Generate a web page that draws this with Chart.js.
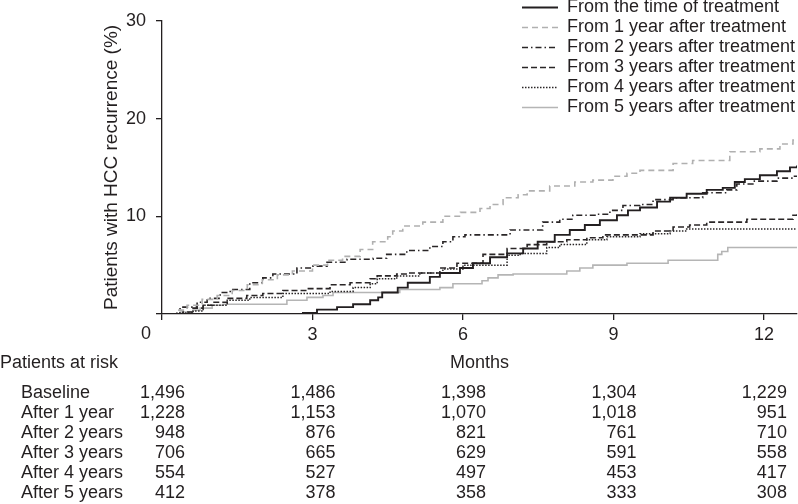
<!DOCTYPE html>
<html>
<head>
<meta charset="utf-8">
<script src="https://cdn.jsdelivr.net/npm/chart.js@4"></script>
<style>
  body { margin: 0; background: #fff; }
</style>
</head>
<body>
<canvas id="km" width="798" height="504"></canvas>
<script>
// x ticks (months) and series names
const monthTicks = [0, 3, 6, 9, 12];
const seriesNames = [
  'From the time of treatment',
  'From 1 year after treatment',
  'From 2 years after treatment',
  'From 3 years after treatment',
  'From 4 years after treatment',
  'From 5 years after treatment'
];

// step curves: time (months) / cumulative recurrence (%)
const tTreat = [0, 2.81, 3.09, 3.49, 3.81, 4.15, 4.31, 4.39, 4.70, 4.90, 5.34, 5.54, 5.94, 6.20, 6.54, 6.88, 7.20, 7.49, 7.83, 8.13, 8.43, 8.73, 9.07, 9.29, 9.53, 9.87, 10.13, 10.46, 10.86, 11.18, 11.42, 11.62, 11.92, 12.26, 12.52, 12.66];
const vTreat = [0, 0.1, 0.45, 0.7, 1.0, 1.4, 1.7, 2.2, 2.7, 3.2, 3.8, 4.2, 4.7, 5.2, 5.8, 6.2, 6.7, 7.4, 8.1, 8.6, 9.1, 9.6, 10.1, 10.6, 10.9, 11.5, 11.9, 12.3, 12.7, 12.9, 13.5, 13.8, 14.2, 14.6, 15.0, 15.2];

const t1yr = [0, 0.3, 0.5, 0.8, 1.1, 1.4, 1.7, 2.0, 2.3, 2.6, 3.0, 3.3, 3.6, 3.95, 4.2, 4.5, 4.6, 4.8, 5.2, 5.6, 5.95, 6.34, 6.54, 6.80, 7.10, 7.28, 7.73, 8.23, 8.59, 8.99, 9.27, 9.53, 10.19, 10.58, 11.32, 11.92, 12.32, 12.58, 12.66];
const v1yr = [0, 0.4, 0.9, 1.5, 1.9, 2.4, 3.0, 3.5, 4.0, 4.4, 5.0, 5.5, 5.9, 6.6, 7.4, 7.9, 8.5, 9.0, 9.4, 10.0, 10.4, 10.8, 11.2, 11.9, 12.2, 12.6, 13.1, 13.5, 13.7, 14.1, 14.4, 14.7, 15.4, 15.7, 16.6, 16.9, 17.4, 17.8, 17.8];

const t2yr = [0, 0.36, 0.70, 0.90, 1.16, 1.36, 1.75, 2.01, 2.21, 2.69, 3.01, 3.29, 3.69, 4.21, 4.48, 4.88, 5.34, 5.60, 5.80, 6.04, 6.94, 7.59, 7.93, 8.19, 8.67, 8.93, 9.19, 9.53, 9.79, 10.19, 10.78, 11.26, 11.46, 11.78, 12.26, 12.58, 12.66];
const v2yr = [0, 0.7, 1.2, 1.6, 2.2, 2.5, 3.2, 3.7, 4.1, 4.7, 4.9, 5.3, 5.6, 5.7, 6.1, 6.5, 6.9, 7.4, 7.9, 8.1, 8.6, 9.4, 9.7, 10.1, 10.2, 10.6, 11.1, 11.2, 11.7, 11.9, 12.4, 12.7, 13.3, 13.6, 13.9, 14.1, 14.1];

const t3yr = [0, 0.42, 0.62, 0.82, 1.02, 1.30, 1.69, 2.01, 2.41, 2.89, 3.35, 3.75, 4.15, 4.29, 4.68, 4.94, 5.54, 5.88, 6.40, 6.88, 7.28, 7.67, 8.07, 8.47, 8.79, 9.79, 10.19, 10.52, 10.86, 11.66, 12.58, 12.66];
const v3yr = [0, 0.2, 0.6, 0.9, 1.2, 1.6, 1.9, 2.1, 2.4, 2.6, 3.0, 3.2, 3.6, 3.9, 4.1, 4.2, 4.7, 5.2, 6.1, 6.7, 7.1, 7.4, 7.6, 7.8, 8.1, 8.5, 8.9, 9.1, 9.4, 9.7, 10.1, 10.2];

const t4yr = [0, 0.30, 0.62, 0.82, 1.30, 1.75, 2.41, 3.35, 3.81, 4.15, 4.29, 4.68, 5.14, 5.60, 6.00, 6.88, 7.14, 7.67, 7.93, 8.47, 8.87, 9.53, 10.13, 10.46, 12.66];
const v4yr = [0, 0.1, 0.3, 0.9, 1.4, 1.7, 2.1, 2.3, 2.7, 3.1, 3.6, 3.9, 4.2, 4.6, 5.0, 6.0, 6.2, 6.8, 7.1, 7.6, 7.9, 8.2, 8.5, 8.7, 8.7];

const t5yr = [0, 0.36, 0.62, 0.76, 1.00, 1.22, 2.49, 2.89, 3.21, 3.41, 4.74, 5.54, 5.80, 6.38, 6.50, 6.70, 7.00, 8.07, 8.33, 8.59, 9.27, 10.09, 11.08, 11.16, 11.28, 12.66];
const v5yr = [0, 0.2, 0.4, 0.6, 0.9, 1.0, 1.4, 1.7, 1.9, 2.2, 2.5, 2.7, 3.1, 3.4, 3.7, 4.0, 4.1, 4.4, 4.7, 5.0, 5.2, 5.5, 6.1, 6.4, 6.8, 6.8];

// patients at risk table
const riskRows = ['Baseline', 'After 1 year', 'After 2 years', 'After 3 years', 'After 4 years', 'After 5 years'];
const riskBaseline = [1496, 1486, 1398, 1304, 1229];
const risk1yr = [1228, 1153, 1070, 1018, 951];
const risk2yr = [948, 876, 821, 761, 710];
const risk3yr = [706, 665, 629, 591, 558];
const risk4yr = [554, 527, 497, 453, 417];
const risk5yr = [412, 378, 358, 333, 308];
const riskCounts = [riskBaseline, risk1yr, risk2yr, risk3yr, risk4yr, risk5yr];

const ink = '#231f20';
const family = '"Liberation Sans", Arial, sans-serif';
const font = { family: family, size: 18 };

function pts(ts, vs) {
  return ts.map((t, i) => ({ x: t, y: vs[i] }));
}

const styles = [
  { color: ink, width: 1.9, dash: [] },
  { color: '#b0b0b0', width: 1.6, dash: [6, 4] },
  { color: '#2a2627', width: 1.6, dash: [6, 3, 1.5, 3] },
  { color: '#2a2627', width: 1.6, dash: [6, 3] },
  { color: '#2a2627', width: 1.5, dash: [1.5, 1.5] },
  { color: '#b5b5b5', width: 1.6, dash: [] }
];
const curves = [pts(tTreat, vTreat), pts(t1yr, v1yr), pts(t2yr, v2yr), pts(t3yr, v3yr), pts(t4yr, v4yr), pts(t5yr, v5yr)];

const datasets = curves.map((d, i) => ({
  label: seriesNames[i],
  data: d,
  borderColor: styles[i].color,
  borderWidth: styles[i].width,
  borderDash: styles[i].dash,
  stepped: 'before',
  fill: false,
  pointRadius: 0
}));

// legend, origin "0" and the risk table
const extras = {
  id: 'extras',
  afterDraw(chart) {
    const ctx = chart.ctx;
    const xs = chart.scales.x;
    ctx.save();
    ctx.font = '18px ' + family;
    ctx.fillStyle = ink;
    ctx.textBaseline = 'middle';

    ctx.textAlign = 'center';
    ctx.fillText('0', xs.getPixelForValue(0) - 16, 334);

    chart.data.datasets.forEach((ds, i) => {
      const y = 7.5 + i * 20;
      ctx.save();
      ctx.strokeStyle = ds.borderColor;
      ctx.lineWidth = ds.borderWidth;
      ctx.setLineDash(ds.borderDash);
      ctx.beginPath();
      ctx.moveTo(522, y);
      ctx.lineTo(558, y);
      ctx.stroke();
      ctx.restore();
      ctx.textAlign = 'left';
      ctx.fillText(ds.label, 567, y);
    });

    ctx.textAlign = 'left';
    ctx.fillText('Patients at risk', 0, 363);
    riskRows.forEach((name, r) => {
      const y = 393 + r * 20;
      ctx.textAlign = 'left';
      ctx.fillText(name, 21, y);
      ctx.textAlign = 'right';
      riskCounts[r].forEach((n, c) => {
        ctx.fillText(n.toLocaleString('en-US'), xs.getPixelForValue(monthTicks[c]) + 23, y);
      });
    });
    ctx.restore();
  }
};

new Chart(document.getElementById('km'), {
  type: 'line',
  data: { datasets: datasets },
  options: {
    responsive: false,
    animation: false,
    layout: { padding: { top: 15, right: 1, left: 0, bottom: 0 } },
    plugins: { legend: { display: false }, tooltip: { enabled: false } },
    scales: {
      x: {
        type: 'linear',
        min: 0,
        max: 12.66,
        afterBuildTicks: s => { s.ticks = monthTicks.map(v => ({ value: v })); },
        afterFit: s => { s.height = 190; },
        grid: { drawOnChartArea: false, tickLength: 6, color: ink, lineWidth: 1.3 },
        border: { color: ink, width: 1.3 },
        ticks: { color: ink, font: font, padding: 4, maxRotation: 0, callback: v => (v === 0 ? '' : v) },
        title: { display: true, text: 'Months', color: ink, font: font, padding: { top: 0, bottom: 130 } }
      },
      y: {
        min: 0,
        max: 30,
        afterFit: s => { s.width = 162; },
        grid: { drawOnChartArea: false, tickLength: 6, color: ink, lineWidth: 1.3 },
        border: { color: ink, width: 1.3 },
        ticks: { stepSize: 10, color: ink, font: font, padding: 10, callback: v => (v === 0 ? '' : v) },
        title: { display: true, text: 'Patients with HCC recurrence (%)', color: ink, font: { family: family, size: 19 }, padding: { top: 100, bottom: 0 } }
      }
    }
  },
  plugins: [extras]
});
</script>
</body>
</html>
